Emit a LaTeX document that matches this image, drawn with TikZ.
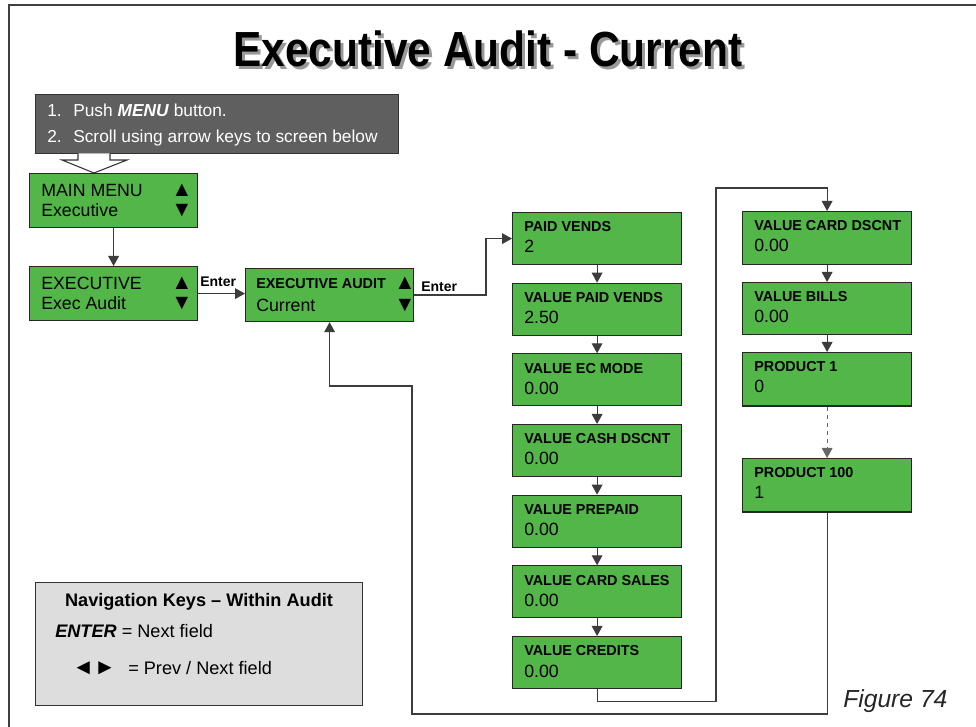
\documentclass[tikz,border=0pt]{standalone}
\usepackage{fontspec}
\setmainfont{Liberation Sans}
\newfontfamily\titlefont[FakeStretch=0.86]{Liberation Sans}
\usetikzlibrary{arrows.meta,calc}
\definecolor{scrgreen}{RGB}{82,183,72}
\definecolor{darkbox}{RGB}{95,95,95}
\definecolor{navgray}{RGB}{221,221,221}
\definecolor{linegray}{RGB}{60,60,60}
\tikzset{
  screen/.style={draw=black!85, line width=0.9pt, fill=scrgreen, anchor=north west, inner sep=0pt},
  conn/.style={draw=linegray, line width=0.9pt},
  arr/.style={conn, -{Triangle[width=8pt,length=7.5pt]}},
  lbl/.style={anchor=base west, inner sep=0pt, font=\fontsize{10.8pt}{12pt}\selectfont\bfseries},
  val/.style={anchor=base west, inner sep=0pt, font=\fontsize{13.3pt}{15pt}\selectfont},
  tri/.style={anchor=base, inner sep=0pt, text height=9pt, text depth=0pt, font=\fontsize{16pt}{18pt}\selectfont},
  wtxt/.style={anchor=base west, inner sep=0pt, text=white, font=\fontsize{13pt}{15pt}\selectfont},
  ntxt/.style={anchor=base west, inner sep=0pt, font=\fontsize{13.6pt}{15pt}\selectfont},
  enterlbl/.style={anchor=base west, inner sep=0pt, font=\fontsize{10.5pt}{12pt}\selectfont\bfseries},
}
\newcommand\colbox[6]{%
  \node[screen, minimum width=126.75pt, minimum height=#6] (#1) at (#2,#3) {};
  \node[lbl] (#1-l) at ($(#1.north west)+(12,20)$) {#4};
  \node[val] (#1-v) at ($(#1.north west)+(12,41)$) {#5};
}
\newcommand\titletext{Executive Audit - Current}
\begin{document}
\begin{tikzpicture}[x=0.75pt,y=-0.75pt]
\useasboundingbox (0,0) rectangle (976,727);
\fill[white] (0,0) rectangle (976,727);
% frame
\draw[black!75, line width=1.3pt] (9,727) -- (9,5) -- (976,5);
% title with shadow
\node[anchor=base, inner sep=0pt, font=\titlefont\fontsize{37pt}{40pt}\selectfont\bfseries] (title) at (488,67) {\rlap{\kern2.25pt\raisebox{-2.25pt}{\textcolor{black!40}{\titletext}}}\titletext};
% instruction box
\node[fill=darkbox, draw=black!80, line width=0.9pt, anchor=north west, inner sep=0pt, minimum width=272.25pt, minimum height=44.25pt] (instr) at (35,94) {};
\node[wtxt] (i1n) at (47,117) {1.};
\node[wtxt] (i1) at (73,117) {Push \textbf{\textit{MENU}} button.};
\node[wtxt] (i2n) at (47,143) {2.};
\node[wtxt] (i2) at (73,143) {Scroll using arrow keys to screen below};
% hollow block arrow
\draw[draw=black!80, fill=white, line width=0.8pt] (78,153.5) -- (78,160) -- (62,160) -- (94,173) -- (127,160) -- (110,160) -- (110,153.5);
% main menu
\node[screen, minimum width=126pt, minimum height=40.5pt] (mainmenu) at (29,173) {};
\node[val] (mm1) at (41,197) {MAIN MENU};
\node[val] (mm2) at (41,217) {Executive};
\node[tri] (mmu) at (182,197) {▲};
\node[tri] (mmd) at (182,217) {▼};
% executive
\node[screen, minimum width=126pt, minimum height=40.5pt] (exec) at (29,266) {};
\node[val] (ex1) at (41,290) {EXECUTIVE};
\node[val] (ex2) at (41,310) {Exec Audit};
\node[tri] (exu) at (182,290) {▲};
\node[tri] (exd) at (182,310) {▼};
% executive audit
\node[screen, minimum width=126pt, minimum height=39.75pt] (audit) at (245,268) {};
\node[lbl] (au1) at (256,289) {EXECUTIVE AUDIT};
\node[val] (au2) at (256,312) {Current};
\node[tri] (auu) at (405,290) {▲};
\node[tri] (aud) at (405,312) {▼};
% enter labels
\node[enterlbl] (ent1) at (200,287) {Enter};
\node[enterlbl] (ent2) at (421,292) {Enter};
% column 1
\colbox{paid}{512}{212}{PAID VENDS}{2}{39pt}
\colbox{vpaid}{512}{282.7}{VALUE PAID VENDS}{2.50}{39pt}
\colbox{vec}{512}{353.3}{VALUE EC MODE}{0.00}{39pt}
\colbox{vcash}{512}{424}{VALUE CASH DSCNT}{0.00}{39pt}
\colbox{vpre}{512}{494.7}{VALUE PREPAID}{0.00}{39pt}
\colbox{vcard}{512}{565.3}{VALUE CARD SALES}{0.00}{39pt}
\colbox{vcred}{512}{636}{VALUE CREDITS}{0.00}{39pt}
% column 2
\colbox{vcdsc}{742}{211}{VALUE CARD DSCNT}{0.00}{39.75pt}
\colbox{vbills}{742}{282}{VALUE BILLS}{0.00}{39pt}
\colbox{prod1}{742}{352}{PRODUCT 1}{0}{40pt}
\colbox{prod100}{742}{458}{PRODUCT 100}{1}{40pt}
% navigation box
\node[fill=navgray, draw=black!80, line width=0.9pt, anchor=north west, inner sep=0pt, minimum width=245.25pt, minimum height=92.25pt] (nav) at (35,582) {};
\node[anchor=base, inner sep=0pt, font=\fontsize{13.6pt}{15pt}\selectfont\bfseries] (navt) at (199,607) {Navigation Keys – Within Audit};
\node[ntxt] (nav1) at (55,638) {\textbf{\textit{ENTER}} = Next field};
\node[anchor=base west, inner sep=0pt, font=\fontsize{16.5pt}{18pt}\selectfont] (nav2a) at (72,674) {◄►};
\node[ntxt] (nav2b) at (128,674) {= Prev / Next field};
% figure caption
\node[anchor=base west, inner sep=0pt, text=black!85, font=\fontsize{18.5pt}{20pt}\selectfont\itshape] (fig) at (843,707) {Figure 74};
% connectors
\coordinate (j1) at (486,0);
\coordinate (j2) at (716,188);
\coordinate (j3) at (412,714);
\coordinate (j4) at (333,386);
\draw[arr] (mainmenu.south) -- (exec.north);
\draw[arr] (exec.east) -- (exec.east -| audit.west);
\draw[arr] (audit.east) -| (j1 |- paid.west) -- (paid.west);
\draw[arr] (paid.south) -- (vpaid.north);
\draw[arr] (vpaid.south) -- (vec.north);
\draw[arr] (vec.south) -- (vcash.north);
\draw[arr] (vcash.south) -- (vpre.north);
\draw[arr] (vpre.south) -- (vcard.north);
\draw[arr] (vcard.south) -- (vcred.north);
\draw[arr] (vcred.south) -- ++(0,12) -| (j2) -| (vcdsc.north);
\draw[arr] (vcdsc.south) -- (vbills.north);
\draw[arr] (vbills.south) -- (prod1.north);
\draw[arr, dashed, draw=black!60] (prod1.south) -- (prod100.north);
\draw[arr] (prod100.south) |- (j3) |- (j4) -| (audit.south);
\end{tikzpicture}
\end{document}
